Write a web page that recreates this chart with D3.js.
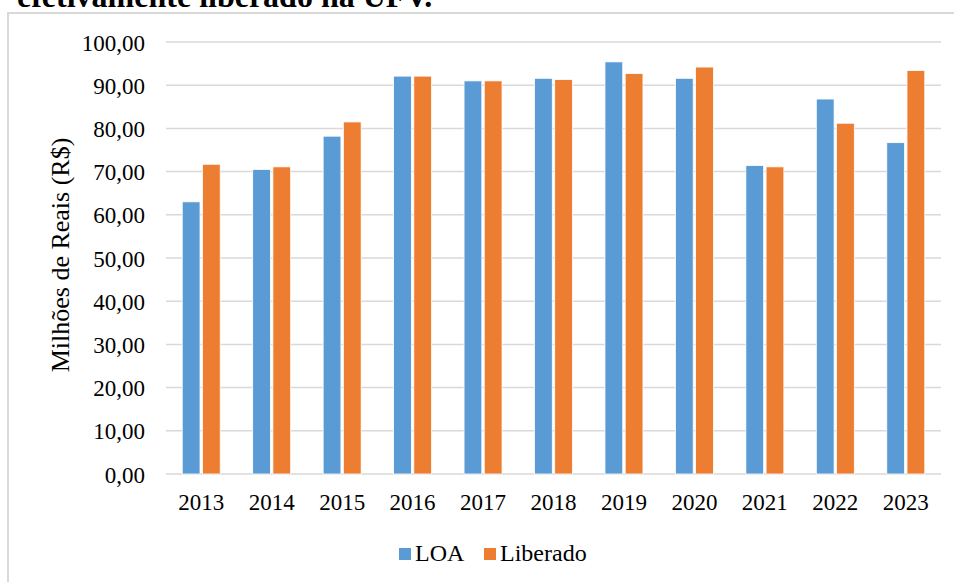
<!DOCTYPE html>
<html>
<head>
<meta charset="utf-8">
<script src="https://cdn.jsdelivr.net/npm/d3@7"></script>
<style>
  body { margin: 0; background: #fff; }
  svg text { font-family: "Liberation Serif", "Times New Roman", serif; fill: #000; }
</style>
</head>
<body>
<svg id="chart"></svg>
<script>
let years = ["2013", "2014", "2015", "2016", "2017", "2018", "2019", "2020", "2021", "2022", "2023"];
let loa = [63.0, 70.5, 78.2, 92.1, 91.0, 91.6, 95.4, 91.6, 71.4, 86.8, 76.7];
let liberado = [71.7, 71.1, 81.5, 92.1, 91.0, 91.3, 92.7, 94.2, 71.1, 81.2, 93.4];
let seriesNames = ["LOA", "Liberado"];
let yTicks = [0, 10, 20, 30, 40, 50, 60, 70, 80, 90, 100];

let width = 954;
let height = 582;
let margin = { top: 42, bottom: 108, left: 166, right: 13 };
let bodyWidth = width - margin.left - margin.right;
let bodyHeight = height - margin.top - margin.bottom;

let serif = "'Liberation Serif', 'Times New Roman', serif";
let blue = "#5b9bd5";
let orange = "#ed7d31";
let colors = [blue, orange];

let svg = d3.select("#chart")
    .attr("width", width)
    .attr("height", height);

// cut-off caption above the chart frame
svg.append("text")
    .attr("x", 17)
    .attr("y", 7)
    .attr("font-family", serif)
    .style("font-size", "32px")
    .style("font-weight", "bold")
    .text("efetivamente liberado na UFV.");

// chart frame
svg.append("rect")
    .attr("x", 8)
    .attr("y", 13)
    .attr("width", 960)
    .attr("height", 600)
    .attr("fill", "none")
    .attr("stroke", "#d9d9d9")
    .attr("stroke-width", 2);

let xScale = d3.scaleBand()
    .domain(years)
    .range([0, bodyWidth]);
let xInner = d3.scaleBand()
    .domain(seriesNames)
    .range([xScale.bandwidth() / 2 - 19, xScale.bandwidth() / 2 + 19])
    .paddingInner(0.12);
let yScale = d3.scaleLinear()
    .domain([0, 100])
    .range([bodyHeight, 0]);

let body = svg.append("g")
    .attr("transform", `translate(${margin.left},${margin.top})`);

// gridlines
body.append("g")
    .selectAll("line")
    .data(yTicks)
    .enter().append("line")
    .attr("x1", 0)
    .attr("x2", bodyWidth)
    .attr("y1", d => yScale(d))
    .attr("y2", d => yScale(d))
    .attr("stroke", "#d9d9d9")
    .attr("stroke-width", 1.5);

// bars
let rows = years.map((y, i) => ({ year: y, values: [loa[i], liberado[i]] }));
body.append("g")
    .selectAll("g")
    .data(rows)
    .enter().append("g")
    .attr("transform", d => `translate(${xScale(d.year)},0)`)
    .selectAll("rect")
    .data(d => d.values.map((v, k) => ({ name: seriesNames[k], value: v, color: colors[k] })))
    .enter().append("rect")
    .attr("x", d => xInner(d.name))
    .attr("width", xInner.bandwidth())
    .attr("y", d => yScale(d.value))
    .attr("height", d => bodyHeight - yScale(d.value))
    .attr("fill", d => d.color)
    .attr("stroke", "#fff")
    .attr("stroke-width", 0.8);

// y axis labels
let yAxis = body.append("g")
    .call(d3.axisLeft(yScale).tickValues(yTicks).tickSize(0).tickPadding(21)
        .tickFormat(d => d3.format(".2f")(d).replace(".", ",")));
yAxis.attr("font-family", serif);
yAxis.select(".domain").remove();
yAxis.selectAll("text").style("font-size", "23px").attr("dy", "0.35em");

// x axis labels
let xAxis = body.append("g")
    .attr("transform", `translate(0,${bodyHeight})`)
    .call(d3.axisBottom(xScale).tickSize(0).tickPadding(20));
xAxis.attr("font-family", serif);
xAxis.select(".domain").remove();
xAxis.selectAll("text").style("font-size", "23px");

// y axis title
svg.append("text")
    .attr("transform", `translate(69,255) rotate(-90)`)
    .attr("text-anchor", "middle")
    .attr("font-family", serif)
    .style("font-size", "26px")
    .text("Milhões de Reais (R$)");

// legend
let legend = svg.append("g")
    .attr("transform", "translate(399,548)")
    .attr("font-family", serif);
let legendX = [0, 85];
legend.selectAll("rect")
    .data(seriesNames)
    .enter().append("rect")
    .attr("x", (d, i) => legendX[i])
    .attr("y", 0)
    .attr("width", 12)
    .attr("height", 12)
    .attr("fill", (d, i) => colors[i]);
legend.selectAll("text")
    .data(seriesNames)
    .enter().append("text")
    .attr("x", (d, i) => legendX[i] + 16)
    .attr("y", 13)
    .style("font-size", "24px")
    .text(d => d);
</script>
</body>
</html>
